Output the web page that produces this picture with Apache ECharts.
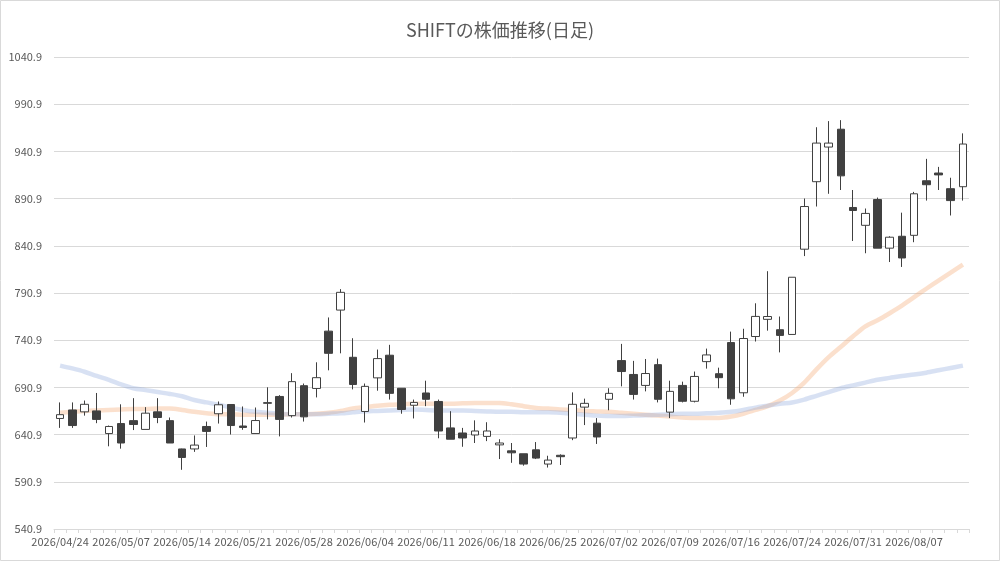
<!DOCTYPE html>
<html>
<head>
<meta charset="utf-8">
<script src="https://cdn.jsdelivr.net/npm/echarts@6/dist/echarts.min.js"></script>
<style>
  html, body { margin: 0; padding: 0; background: #fff; }
  #chart { width: 1000px; height: 561px; }
</style>
</head>
<body>
<div id="chart"></div>
<script>
// 取引日
const dates = [
  "2026/04/24", "2026/04/27", "2026/04/28", "2026/04/30", "2026/05/01",
  "2026/05/07", "2026/05/08", "2026/05/11", "2026/05/12", "2026/05/13",
  "2026/05/14", "2026/05/15", "2026/05/18", "2026/05/19", "2026/05/20",
  "2026/05/21", "2026/05/22", "2026/05/25", "2026/05/26", "2026/05/27",
  "2026/05/28", "2026/05/29", "2026/06/01", "2026/06/02", "2026/06/03",
  "2026/06/04", "2026/06/05", "2026/06/08", "2026/06/09", "2026/06/10",
  "2026/06/11", "2026/06/12", "2026/06/15", "2026/06/16", "2026/06/17",
  "2026/06/18", "2026/06/19", "2026/06/22", "2026/06/23", "2026/06/24",
  "2026/06/25", "2026/06/26", "2026/06/29", "2026/06/30", "2026/07/01",
  "2026/07/02", "2026/07/03", "2026/07/06", "2026/07/07", "2026/07/08",
  "2026/07/09", "2026/07/10", "2026/07/13", "2026/07/14", "2026/07/15",
  "2026/07/16", "2026/07/17", "2026/07/21", "2026/07/22", "2026/07/23",
  "2026/07/24", "2026/07/27", "2026/07/28", "2026/07/29", "2026/07/30",
  "2026/07/31", "2026/08/03", "2026/08/04", "2026/08/05", "2026/08/06",
  "2026/08/07", "2026/08/10", "2026/08/12", "2026/08/13", "2026/08/14"
];

// 始値・終値・安値・高値
const openVals = [
  658, 667, 665, 666, 642, 652.6, 655.7, 646.4, 665, 655.7,
  625.7, 625.7, 649.5, 663, 672.8, 650, 642, 674, 681.3, 661,
  692.7, 689.8, 750.5, 772.8, 722.8, 665.4, 701, 725, 690, 672,
  685, 676, 648, 642.6, 640.5, 639, 630, 623.7, 620.6, 624.8,
  609.7, 619, 637.3, 670, 653, 678.3, 719.3, 704.6, 693, 715,
  664.7, 693, 676.2, 718.2, 705.4, 738.4, 685.2, 744.8, 763, 752,
  747, 837.3, 908.8, 945.5, 964.4, 881.5, 862.6, 889.9, 838.4, 851,
  852, 909.8, 918, 901.4, 903.5
];
const closeVals = [
  662, 650.5, 673, 657, 649.5, 632, 651.6, 663.6, 659, 632,
  616.7, 629.8, 644.3, 672.5, 650.5, 648.5, 655.8, 674.8, 657, 697,
  659.7, 701.2, 727, 791.6, 694, 692, 721.4, 684.6, 667.5, 675,
  678.3, 644.7, 636, 637.3, 644.7, 644.7, 632, 621.6, 609.7, 616,
  613.9, 617.5, 673, 674, 638.4, 684.6, 707.7, 683.5, 705.6, 678.3,
  686.7, 676.2, 702.5, 725.3, 701.2, 678.8, 742.7, 766.1, 766, 746,
  807.6, 882.5, 949.7, 949.7, 915, 878.3, 875.2, 838.4, 850, 828,
  896, 905.6, 916, 888.8, 948.7
];
const lowVals = [
  648, 648, 661, 653, 628.5, 626, 645.7, 646.4, 653, 632,
  603.6, 622.6, 627.8, 652.6, 641, 646, 642, 657, 639, 659,
  654.7, 680.3, 709, 727, 688.8, 653.7, 687.4, 678, 663, 658,
  671, 637, 636, 628, 632, 634, 615, 611, 608, 615,
  606, 608.7, 635, 651, 631, 666.7, 692, 678, 686.7, 675,
  658.4, 675, 675, 710.8, 690, 672.5, 681, 739.5, 751, 728,
  747, 830, 882.5, 896, 900, 846, 833, 838.4, 823.7, 818.5,
  844.7, 888.8, 900, 873, 888.8
];
const highVals = [
  675, 675, 677, 685, 650.5, 673, 679.5, 670, 679.5, 659,
  626, 640, 654.7, 676, 673, 670.7, 669.6, 691, 682.7, 706,
  695, 717.5, 765, 795, 743, 695, 731, 736, 690, 678,
  698, 678, 665.7, 648, 656, 654, 636, 632, 620.6, 633,
  618.5, 620, 685.6, 679, 658.4, 690, 737, 719, 721, 721.4,
  698, 697, 707.7, 732, 711.8, 750, 753, 780, 814, 766,
  807.6, 891, 966.5, 973, 974, 900, 880.4, 892, 851, 876,
  898, 933, 924.5, 913, 960
];

// 移動平均（短期・長期）
const maShort = [
  664, 665, 666, 666.5, 667, 667.5, 668, 668, 668.5, 668.5,
  667, 665, 663.5, 662.5, 662.5, 662, 662, 662, 662, 662.5,
  662.5, 663, 664, 666, 668.5, 670, 671.5, 672.5, 673, 673.5,
  673.5, 673.5, 673.5, 674, 674.5, 674.5, 674.5, 673, 671, 669,
  668.5, 667.5, 667, 666, 665.5, 665, 664, 663, 662, 661,
  660, 659, 658.5, 658.5, 658.5, 660, 663, 667, 671, 677,
  685, 696, 710, 723, 734, 745, 755.5, 762, 769.5, 777.5,
  786.5, 795.4, 804, 812.5, 821
];
const maLong = [
  714, 711, 707.5, 703, 699, 694, 690, 688, 686, 684,
  681.5, 677.5, 675, 672.5, 669.5, 667, 665, 664, 663, 662.5,
  662.5, 662.5, 663, 663.5, 664.5, 665.5, 666, 666.5, 667, 667.5,
  667, 666.5, 666.5, 666.5, 666, 665.5, 665, 665, 664.5, 664.5,
  664.5, 664, 663, 662, 661, 660.5, 660.5, 661, 661.5, 662,
  662.5, 663, 663, 663.5, 664, 665, 667, 669.5, 671.5, 673.5,
  675, 678, 682, 686, 690, 693, 696, 699, 701, 703,
  704.5, 706.5, 709, 711.5, 714
];

const yMin = 540.9;
const yMax = 1040.9;
const yStep = 50;

const candleData = dates.map((d, i) => [openVals[i], closeVals[i], lowVals[i], highVals[i]]);

const chart = echarts.init(document.getElementById("chart"));

const labelFont = "'Noto Sans CJK JP', 'Noto Sans', sans-serif";

chart.setOption({
  animation: false,
  backgroundColor: "#ffffff",
  title: {
    text: "SHIFTの株価推移(日足)",
    left: "center",
    top: 16,
    textStyle: {
      color: "#595959",
      fontSize: 18,
      fontWeight: "normal",
      fontFamily: labelFont,
    },
  },
  grid: { left: 54, right: 31, top: 57, bottom: 32 },
  xAxis: {
    type: "category",
    data: dates,
    boundaryGap: true,
    axisLine: { lineStyle: { color: "#d9d9d9" } },
    axisTick: { show: true, interval: 0, length: 4, lineStyle: { color: "#d9d9d9" } },
    axisLabel: {
      interval: 4,
      margin: 7,
      color: "#595959",
      fontSize: 11,
      fontFamily: labelFont,
    },
    splitLine: { show: false },
  },
  yAxis: {
    type: "value",
    min: yMin,
    max: yMax,
    interval: yStep,
    axisLine: { show: false },
    axisTick: { show: false },
    axisLabel: {
      margin: 12,
      color: "#595959",
      fontSize: 11,
      fontFamily: labelFont,
      formatter: (v) => v.toFixed(1),
    },
    splitLine: { lineStyle: { color: "#d9d9d9", width: 1 } },
  },
  graphic: [
    {
      type: "rect",
      shape: { x: 0.5, y: 0.5, width: 999, height: 560 },
      style: { fill: "none", stroke: "#d9d9d9", lineWidth: 1 },
      silent: true,
    },
  ],
  series: [
    {
      name: "短期移動平均",
      type: "line",
      data: maShort,
      showSymbol: false,
      smooth: 0.3,
      z: 2,
      lineStyle: { color: "#F4B183", width: 4.5, opacity: 0.4 },
    },
    {
      name: "長期移動平均",
      type: "line",
      data: maLong,
      showSymbol: false,
      smooth: 0.3,
      z: 2,
      lineStyle: { color: "#8FAADC", width: 4.5, opacity: 0.35 },
    },
    {
      name: "株価",
      type: "candlestick",
      data: candleData,
      barWidth: 8,
      z: 3,
      itemStyle: {
        color: "#ffffff",
        color0: "#404040",
        borderColor: "#404040",
        borderColor0: "#404040",
        borderWidth: 1,
      },
    },
  ],
});
</script>
</body>
</html>
